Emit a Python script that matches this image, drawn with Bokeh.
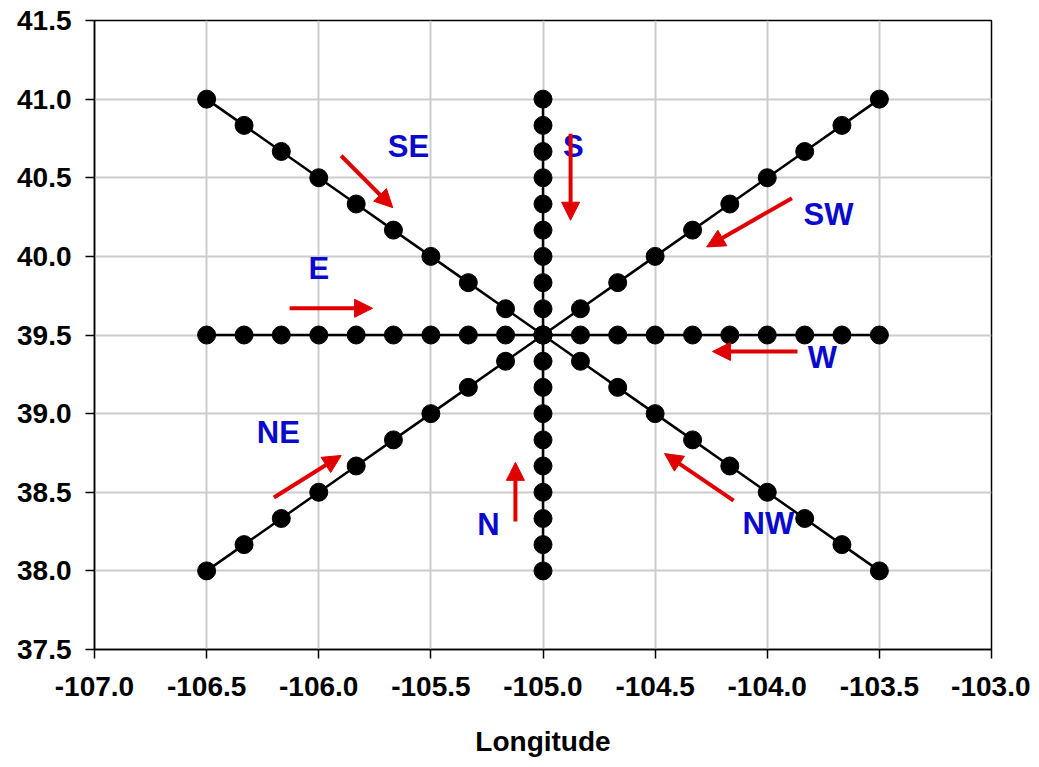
from bokeh.plotting import figure
from bokeh.models import (Range1d, SingleIntervalTicker, NumeralTickFormatter,
                          Arrow, NormalHead, ColumnDataSource)
from bokeh.core.properties import value
from bokeh.embed import file_html
from bokeh.resources import INLINE

# ---------------- data ----------------
lon_steps = [-106.5, -106.333, -106.167, -106.0, -105.833, -105.667, -105.5,
             -105.333, -105.167, -105.0, -104.833, -104.667, -104.5, -104.333,
             -104.167, -104.0, -103.833, -103.667, -103.5]
lat_steps = [38.0, 38.167, 38.333, 38.5, 38.667, 38.833, 39.0, 39.167, 39.333,
             39.5, 39.667, 39.833, 40.0, 40.167, 40.333, 40.5, 40.667, 40.833, 41.0]

ew_lon = lon_steps
ew_lat = [39.5] * 19
ns_lon = [-105.0] * 19
ns_lat = lat_steps
swne_lon = lon_steps
swne_lat = lat_steps
nwse_lon = lon_steps
nwse_lat = lat_steps[::-1]

arrow_x0 = [-105.90, -104.877, -103.89, -106.13, -103.865, -106.20, -105.123, -104.15]
arrow_y0 = [40.64, 40.78, 40.37, 39.67, 39.395, 38.467, 38.314, 38.447]
arrow_x1 = [-105.67, -104.877, -104.27, -105.76, -104.244, -105.90, -105.123, -104.458]
arrow_y1 = [40.31, 40.23, 40.06, 39.67, 39.395, 38.734, 38.69, 38.746]

dir_labels = ["SE", "S", "SW", "E", "W", "NE", "N", "NW"]
label_x = [-105.60, -104.865, -103.727, -106.0, -103.754, -106.18, -105.243, -103.995]
label_y = [40.70, 40.70, 40.266, 39.92, 39.357, 38.88, 38.295, 38.30]

# ---------------- figure ----------------
p = figure(width=1030, height=767, output_backend="svg", toolbar_location=None,
           x_range=Range1d(-107, -103), y_range=Range1d(37.5, 41.5),
           min_border_left=94, min_border_right=39, min_border_top=20,
           min_border_bottom=118)
p.outline_line_color = "black"
p.outline_line_width = 1.5
p.background_fill_color = "white"

p.xaxis.ticker = SingleIntervalTicker(interval=0.5)
p.yaxis.ticker = SingleIntervalTicker(interval=0.5)
p.xaxis.formatter = NumeralTickFormatter(format="0.0")
p.yaxis.formatter = NumeralTickFormatter(format="0.0")
for ax in (p.xaxis, p.yaxis):
    ax.major_tick_in = 0
    ax.major_tick_out = 9
    ax.minor_tick_line_color = None
    ax.axis_line_color = "black"
    ax.axis_line_width = 1.5
    ax.major_tick_line_width = 1.5
    ax.major_label_text_font = "Liberation Sans"
    ax.major_label_text_font_style = "bold"
    ax.major_label_text_color = "black"
p.xaxis.major_label_text_font_size = "28px"
p.yaxis.major_label_text_font_size = "28px"
p.xaxis.major_label_standoff = 18
p.yaxis.major_label_standoff = 14
p.xaxis.axis_label = "Longitude"
p.xaxis.axis_label_text_font = "Liberation Sans"
p.xaxis.axis_label_text_font_style = "bold"
p.xaxis.axis_label_text_font_size = "28px"
p.xaxis.axis_label_text_color = "black"
p.xaxis.axis_label_standoff = 27

p.grid.grid_line_color = "#cccccc"
p.grid.grid_line_width = 2
p.xgrid.ticker = SingleIntervalTicker(interval=0.5)
p.ygrid.ticker = SingleIntervalTicker(interval=0.5)

# lines and dots
for xs, ys in [(ew_lon, ew_lat), (ns_lon, ns_lat), (swne_lon, swne_lat), (nwse_lon, nwse_lat)]:
    p.line(xs, ys, line_color="black", line_width=2.5)
    p.scatter(xs, ys, size=18, fill_color="black", line_color="black")

# arrows
asrc = ColumnDataSource(dict(x0=arrow_x0, y0=arrow_y0, x1=arrow_x1, y1=arrow_y1))
p.add_layout(Arrow(end=NormalHead(size=18, fill_color="#e00000", line_color="#e00000"),
                   x_start="x0", y_start="y0", x_end="x1", y_end="y1",
                   line_color="#e00000", line_width=4, source=asrc))

# direction labels
lsrc = ColumnDataSource(dict(x=label_x, y=label_y, t=dir_labels))
p.text(x="x", y="y", text="t", source=lsrc, text_font=value("Liberation Sans"),
       text_font_style="bold", text_font_size="31px", text_color="#0a0acd",
       text_align="center", text_baseline="middle")

open("out.html", "w").write(file_html(p, INLINE))
